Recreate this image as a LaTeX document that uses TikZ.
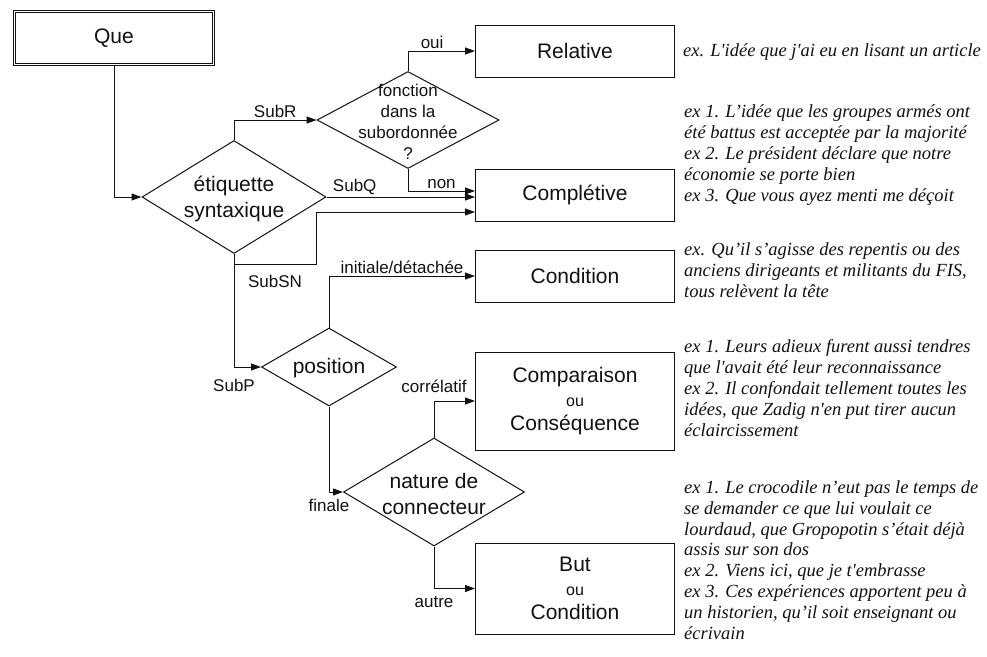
\documentclass[tikz,border=0pt]{standalone}
\usepackage{fontspec}
\setmainfont{Liberation Serif}
\setsansfont{Liberation Sans}
\usetikzlibrary{arrows.meta,shapes.geometric}
\definecolor{Ink}{HTML}{111111}
\newcommand{\oufont}{\fontsize{16}{16}\selectfont}

\tikzset{
  outbox/.style={draw=Ink,line width=1pt,minimum width=199pt,minimum height=52pt,inner sep=0pt,
    align=center,font=\sffamily\fontsize{21}{24}\selectfont,text=Ink},
  choice/.style={draw=Ink,line width=1pt,diamond,inner sep=0pt},
  dtext/.style={align=center,inner sep=0pt,font=\sffamily\fontsize{21}{26}\selectfont,text=Ink},
  flow/.style={draw=Ink,line width=1pt,-{Triangle[length=10pt,width=7pt]}},
  lbl/.style={font=\sffamily\fontsize{17}{19}\selectfont,text=Ink,inner sep=2pt},
  exnote/.style={anchor=west,align=left,inner sep=0pt,font=\itshape\fontsize{18.5}{20.8}\selectfont,text=Ink}
}

\begin{document}
\begin{tikzpicture}[x=1pt,y=-1pt]
  \useasboundingbox (0,0) rectangle (987,656);

  % start and decisions
  \node[outbox,double=white,double distance=1.6pt,line width=1pt,minimum height=53pt] (que) at (114,38) {Que};
  \node[choice,minimum width=184pt,minimum height=113pt] (etq) at (234,197) {};
  \node[dtext] (etq-t) at (234,199) {étiquette\\syntaxique};
  \node[choice,minimum width=182pt,minimum height=97pt] (fct) at (408,120) {};
  \node[dtext,font=\sffamily\fontsize{17}{21}\selectfont] (fct-t) at (408,122) {fonction\\dans la\\subordonnée\\?};
  \node[choice,minimum width=135pt,minimum height=78pt] (pos) at (329,367) {};
  \node[dtext] (pos-t) at (329,368) {position};
  \node[choice,minimum width=181pt,minimum height=108pt] (nat) at (434,492) {};
  \node[dtext] (nat-t) at (434,494) {nature de\\connecteur};

  % outcomes
  \foreach \nm/\yy/\hh/\txt in {
    rel/51/52/Relative,
    cmp/195/52/Complétive,
    cnd/276/52/Condition,
    cps/401/98/{Comparaison\\{\oufont ou}\\Conséquence},
    but/588.5/91/{But\\{\oufont ou}\\Condition}}{
    \node[outbox,minimum height=\hh pt] (\nm) at (575,\yy) {\txt};
  }

  % connectors
  \draw[flow] (que.south) |- (etq.west);
  \draw[flow] (etq.north) |- node[lbl,above,pos=0.75] (subr) {SubR} (fct.west);
  \draw[flow] (fct.north) |- node[lbl,above,pos=0.68] (oui) {oui} (rel.west);
  \draw[flow] (fct.south) |- node[lbl,above,pos=0.75] (non) {non} ([yshift=4pt]cmp.west);
  \draw[flow] (etq.east) -- node[lbl,above,pos=0.19] (subq) {SubQ} (etq.east -| cmp.west);
  \coordinate (snbend) at (316,264);
  \draw[flow] (etq.south) |- node[lbl,below=9pt,pos=0.75] (subsn) {SubSN} (snbend) |- ([yshift=-17pt]cmp.west);
  \draw[flow] (etq.south) |- node[lbl,below=10pt,pos=0.5] (subp) {SubP} (pos.west);
  \draw[flow] (pos.north) |- node[lbl,above,pos=0.75] (init) {initiale/détachée} (cnd.west);
  \draw[flow] (pos.south) |- node[lbl,below=5pt,pos=0.5] (fin) {finale} (nat.west);
  \draw[flow] (nat.north) |- node[lbl,above=6pt,pos=0.5] (corr) {corrélatif} (cps.west);
  \draw[flow] (nat.south) |- node[lbl,below=5pt,pos=0.5] (autre) {autre} (but.west);

  % examples
  \node[exnote] (ex-rel) at (683,52) {ex. L\textquotesingle idée que j\textquotesingle ai eu en lisant un article};
  \node[exnote] (ex-cmp) at (684,155) {ex 1. L’idée que les groupes armés ont\\été battus est acceptée par la majorité\\ex 2. Le président déclare que notre\\économie se porte bien\\ex 3. Que vous ayez menti me déçoit};
  \node[exnote] (ex-cnd) at (684,270) {ex. Qu’il s’agisse des repentis ou des\\anciens dirigeants et militants du FIS,\\tous relèvent la tête};
  \node[exnote] (ex-cps) at (684,388) {ex 1. Leurs adieux furent aussi tendres\\que l\textquotesingle avait été leur reconnaissance\\ex 2. Il confondait tellement toutes les\\idées, que Zadig n\textquotesingle en put tirer aucun\\éclaircissement};
  \node[exnote] (ex-but) at (684,560) {ex 1. Le crocodile n’eut pas le temps de\\se demander ce que lui voulait ce\\lourdaud, que Gropopotin s’était déjà\\assis sur son dos\\ex 2. Viens ici, que je t\textquotesingle embrasse\\ex 3. Ces expériences apportent peu à\\un historien, qu’il soit enseignant ou\\écrivain};
\end{tikzpicture}
\end{document}
